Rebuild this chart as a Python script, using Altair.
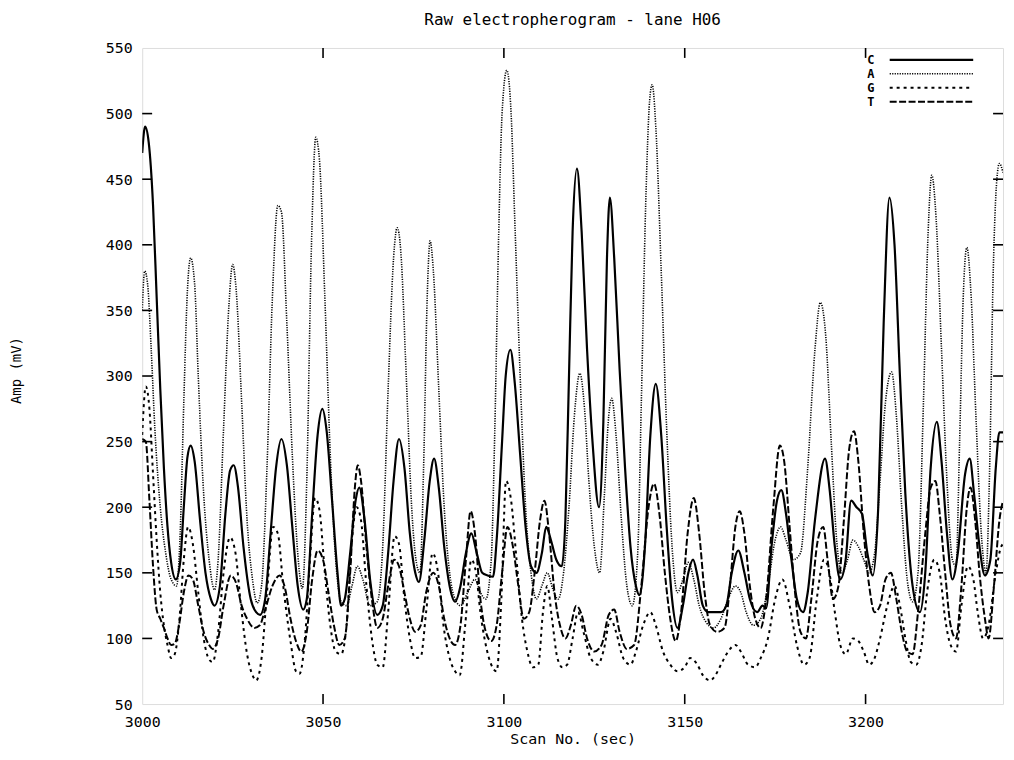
import altair as alt
import pandas as pd

FONT = "DejaVu Sans Mono"

# ---- data: (scan, amplitude mV) ----
C_points = [
    (3000, 470), (3000.8, 490), (3001.8, 478), (3003, 430), (3004, 360), (3005, 290), (3006, 230),
    (3007, 185), (3008, 158), (3009.3, 145), (3010.5, 158), (3011.5, 200), (3012.5, 238), (3013.4, 247),
    (3014.5, 235), (3016, 190), (3017.5, 150), (3019, 130), (3020, 125), (3021.5, 140), (3023, 195),
    (3024.3, 228), (3025.3, 232), (3026.5, 215), (3028, 170), (3030, 130), (3031.5, 120), (3032.6, 118),
    (3034, 130), (3035.5, 180), (3037, 230), (3038.5, 252), (3040, 232), (3041.5, 185), (3043, 140),
    (3044.5, 122), (3045.5, 130), (3047, 195), (3048.5, 255), (3049.8, 275), (3051, 258), (3052.5, 205),
    (3054, 150), (3055, 125), (3056, 130), (3057.5, 165), (3059, 205), (3060, 215), (3061.5, 190),
    (3063, 145), (3065, 118), (3066.5, 125), (3068, 165), (3069.5, 220), (3071, 252), (3072.5, 230),
    (3074, 180), (3075.5, 150), (3076.5, 143), (3078, 175), (3079.5, 220), (3080.7, 237), (3082, 215),
    (3083.5, 170), (3085, 140), (3086.5, 128), (3088, 140), (3089.5, 165), (3091, 180), (3092.5, 165),
    (3094, 150), (3095.5, 148), (3097, 147), (3098, 175), (3099.5, 250), (3100.5, 300), (3101.8, 320),
    (3103, 295), (3104.5, 240), (3106, 185), (3107.5, 155), (3109, 150), (3110.5, 165), (3111.7, 185),
    (3113, 175), (3114.5, 160), (3116, 155), (3117, 190), (3118, 300), (3119, 410), (3120.2, 458),
    (3121.5, 410), (3123, 320), (3124.5, 250), (3126.3, 200), (3127.5, 265), (3128.5, 390), (3129.3, 436),
    (3130.5, 390), (3132, 305), (3133.5, 230), (3135, 170), (3136.5, 140), (3137.5, 133), (3139, 170),
    (3140.5, 255), (3142, 294), (3143.5, 255), (3145, 185), (3146.5, 130), (3148, 108), (3149.5, 125),
    (3151, 150), (3152.3, 160), (3153.5, 148), (3155, 125), (3156.5, 120), (3158, 120), (3160, 120),
    (3161.5, 125), (3163, 150), (3164.8, 167), (3166.5, 150), (3168, 130), (3170, 120), (3171.5, 125),
    (3172.5, 123), (3174, 170), (3175.5, 205), (3176.7, 213), (3178, 195), (3179.5, 160), (3181, 130),
    (3182.7, 120), (3184, 135), (3186, 190), (3188.8, 237), (3190, 215), (3191.5, 170), (3193, 145),
    (3194.5, 160), (3196, 205), (3197.5, 200), (3199, 195), (3200.5, 165), (3202, 148), (3203.5, 200),
    (3205, 340), (3206.6, 436), (3208, 400), (3209.5, 300), (3211, 210), (3213, 140), (3215, 120),
    (3216.5, 150), (3218, 230), (3219.7, 265), (3221, 235), (3222.5, 180), (3224, 145), (3225.5, 165),
    (3227.5, 225), (3228.8, 237), (3230, 210), (3231.5, 170), (3233, 148), (3234.5, 160), (3236, 230),
    (3237, 257), (3238, 257),
]

A_points = [
    (3000, 350), (3000.7, 380), (3001.5, 370), (3002.5, 320), (3003.5, 260), (3005, 200), (3006.5, 165),
    (3008, 145), (3009.5, 140), (3010.5, 180), (3011.5, 280), (3012.5, 365), (3013.4, 390), (3014.5, 370),
    (3015.5, 300), (3017, 210), (3018.5, 160), (3020, 137), (3021, 160), (3022.5, 260), (3024, 355),
    (3025, 385), (3026, 365), (3027.5, 280), (3029, 190), (3030.5, 145), (3031.8, 127), (3033, 140),
    (3034.5, 230), (3036, 360), (3037.5, 430), (3038.5, 425), (3040, 340), (3041.5, 240), (3043, 165),
    (3044.3, 138), (3045.5, 220), (3046.8, 400), (3048, 482), (3049, 465), (3050.5, 360), (3052, 240),
    (3053.5, 160), (3055, 128), (3056.5, 125), (3058, 140), (3059.5, 155), (3061, 145), (3063, 125),
    (3065, 128), (3066.5, 170), (3068, 290), (3069.5, 390), (3070.5, 413), (3071.5, 395), (3073, 300),
    (3074.5, 200), (3076, 155), (3076.8, 150), (3077.8, 230), (3078.8, 360), (3079.6, 403), (3080.5, 380),
    (3082, 290), (3083.5, 200), (3085, 150), (3086.5, 130), (3088, 125), (3090, 135), (3092, 145),
    (3093.5, 135), (3095, 130), (3096.5, 160), (3097.5, 260), (3098.5, 400), (3099.5, 500), (3100.8, 533),
    (3102, 500), (3103, 420), (3104.5, 300), (3106, 200), (3107.5, 150), (3109, 130), (3110.5, 140),
    (3112, 150), (3113.5, 138), (3115, 130), (3116.5, 150), (3118, 200), (3119.5, 270), (3121, 302),
    (3122.3, 275), (3123.5, 220), (3125, 170), (3126.5, 150), (3127.8, 210), (3129, 270), (3129.8, 283),
    (3131, 255), (3132.5, 190), (3134, 140), (3135.5, 125), (3137, 165), (3138, 280), (3139.2, 430),
    (3140.3, 510), (3141, 522), (3142, 490), (3143.5, 380), (3145, 260), (3146.5, 170), (3148, 135),
    (3149.5, 145), (3151, 158), (3152.5, 145), (3154, 125), (3156, 112), (3158, 108), (3160, 115),
    (3162, 130), (3164, 140), (3165.5, 135), (3167, 120), (3169, 110), (3171, 115), (3173, 140),
    (3175, 175), (3176.5, 185), (3178, 175), (3180, 160), (3182, 165), (3184, 230), (3186, 320),
    (3187.5, 356), (3189, 330), (3190.5, 250), (3192, 175), (3193.5, 150), (3195, 160), (3196.5, 175),
    (3198, 170), (3199.5, 160), (3201, 150), (3202.5, 165), (3204, 220), (3205.5, 280), (3207.2, 303),
    (3208.5, 270), (3210, 200), (3211.5, 145), (3213, 128), (3214.5, 150), (3216, 280), (3217.3, 410),
    (3218.3, 453), (3219.5, 420), (3221, 320), (3222.5, 220), (3224, 160), (3225, 155), (3226, 250),
    (3227, 360), (3228, 398), (3229.2, 360), (3230.5, 270), (3232, 180), (3233.3, 150), (3234.3, 230),
    (3235.3, 380), (3236.3, 450), (3237, 462), (3238, 455),
]

G_points = [
    (3000, 255), (3001, 292), (3002, 275), (3003, 225), (3004, 175), (3005, 135), (3006, 110), (3007, 95),
    (3008, 85), (3009, 88), (3010.3, 115), (3011.5, 160), (3012.7, 185), (3014, 172), (3015.5, 135),
    (3017, 100), (3018.5, 84), (3019.5, 82), (3021, 105), (3022.5, 150), (3024.3, 177), (3025.8, 165),
    (3027.3, 125), (3029, 88), (3030.5, 72), (3031.5, 68), (3033, 85), (3034.5, 135), (3036.2, 185),
    (3037.5, 180), (3039, 140), (3041, 98), (3042.5, 75), (3043.5, 73), (3045, 100), (3046.5, 165),
    (3047.8, 207), (3049, 198), (3050.5, 150), (3052, 110), (3053.5, 90), (3055, 88), (3056.5, 110),
    (3058, 175), (3059.3, 200), (3060.5, 190), (3062, 140), (3063.5, 100), (3065, 80), (3066.5, 78),
    (3068, 120), (3069.8, 178), (3071, 172), (3072.5, 130), (3074, 100), (3075.5, 85), (3077, 86),
    (3078.5, 120), (3080.3, 165), (3081.8, 150), (3083.3, 110), (3085, 85), (3086.5, 75), (3087.8, 72),
    (3089.3, 110), (3091, 160), (3092.3, 150), (3093.5, 120), (3095, 95), (3096.5, 80), (3098, 75),
    (3099.3, 130), (3100.6, 220), (3102, 205), (3103.5, 160), (3105, 115), (3106.5, 90), (3108, 78),
    (3109.5, 80), (3110.8, 120), (3112, 140), (3113.3, 115), (3114.8, 85), (3116.2, 78), (3117.5, 80),
    (3119, 100), (3120.5, 120), (3122, 105), (3124, 85), (3126, 80), (3127.5, 90), (3129.5, 115),
    (3131, 105), (3133, 85), (3135, 80), (3136.5, 90), (3138.5, 110), (3140.5, 120), (3142, 110),
    (3144, 90), (3146, 80), (3148, 75), (3150, 78), (3151.5, 85), (3153.5, 80), (3155, 72), (3157, 68),
    (3158.5, 72), (3160, 80), (3162, 90), (3164, 95), (3165.5, 90), (3167.5, 80), (3169.5, 78),
    (3171, 85), (3173, 100), (3175, 130), (3177, 145), (3179, 125), (3181, 95), (3183, 80), (3184.5, 85),
    (3186.5, 130), (3188.5, 160), (3190, 150), (3191.5, 120), (3193, 95), (3194.5, 88), (3196.5, 100),
    (3198, 98), (3199.5, 90), (3201, 80), (3202.5, 85), (3204, 100), (3206, 125), (3208, 140),
    (3209.5, 125), (3211, 100), (3212.5, 82), (3214, 80), (3215.5, 95), (3217, 135), (3219, 160),
    (3220.5, 150), (3222, 115), (3223.5, 95), (3225, 90), (3226.5, 125), (3228.3, 155), (3229.8, 145),
    (3231, 120), (3232.5, 100), (3234, 110), (3236, 150), (3237.5, 170), (3238, 172),
]

T_points = [
    (3000, 252), (3001, 250), (3002, 205), (3003, 155), (3004, 122), (3005, 115), (3006, 108), (3007, 100),
    (3008, 95), (3009, 96), (3010.3, 112), (3011.5, 135), (3012.8, 148), (3014, 145), (3015.5, 125),
    (3017, 105), (3018.5, 95), (3019.5, 92), (3021, 100), (3022.5, 125), (3024.5, 148), (3026, 142),
    (3027.5, 125), (3029, 115), (3031, 108), (3032.5, 110), (3034, 122), (3036, 140), (3038, 148),
    (3039.5, 138), (3041, 115), (3042.5, 98), (3044, 90), (3045.5, 105), (3047, 145), (3048.5, 167),
    (3050, 160), (3051.5, 135), (3053, 110), (3054.5, 95), (3056, 100), (3057.5, 150), (3058.8, 215),
    (3059.6, 232), (3060.5, 220), (3062, 170), (3063.5, 130), (3065, 108), (3066.5, 115), (3068, 140),
    (3069.7, 160), (3071, 155), (3072.5, 135), (3074, 115), (3075.5, 105), (3077, 110), (3078.5, 135),
    (3080.5, 150), (3082, 140), (3083.5, 115), (3085, 100), (3086.5, 95), (3088, 110), (3089.5, 160),
    (3090.8, 197), (3092, 180), (3093.5, 130), (3095, 105), (3096.5, 98), (3098, 110), (3099.5, 150),
    (3101, 185), (3102.5, 170), (3104, 140), (3105.5, 115), (3107, 120), (3108.5, 150), (3110, 190),
    (3111.2, 205), (3112.5, 180), (3114, 135), (3115.5, 110), (3117, 100), (3118.5, 110), (3120, 125),
    (3121.5, 118), (3123, 100), (3125, 90), (3127, 95), (3129, 118), (3130.5, 122), (3132, 105),
    (3134, 92), (3136, 95), (3138, 140), (3140, 200), (3141.5, 218), (3143, 195), (3144.5, 150),
    (3146, 115), (3147.5, 98), (3149, 120), (3150.8, 180), (3152.5, 207), (3154, 180), (3155.5, 135),
    (3157, 110), (3159, 105), (3161, 108), (3162.5, 140), (3164, 185), (3165.2, 197), (3166.5, 180),
    (3168, 140), (3169.5, 115), (3171, 108), (3172.5, 130), (3174.5, 200), (3176.3, 247), (3177.5, 235),
    (3179, 185), (3180.5, 135), (3182, 105), (3183.5, 100), (3185, 130), (3186.8, 175), (3188.3, 185),
    (3189.5, 160), (3191, 130), (3192.5, 140), (3194, 190), (3195.5, 245), (3196.8, 258), (3198, 235),
    (3199.5, 180), (3201, 140), (3202.5, 120), (3204, 125), (3205.5, 145), (3207, 150), (3208.5, 130),
    (3210, 105), (3211.5, 90), (3213, 88), (3214.5, 120), (3216.5, 180), (3218, 215), (3219.3, 220),
    (3220.5, 195), (3222, 150), (3223.5, 110), (3225, 100), (3226.5, 140), (3228, 200), (3229, 215),
    (3230.3, 190), (3231.5, 150), (3233, 115), (3234, 100), (3235.5, 140), (3237, 190), (3238, 205),
]

series_names = ["C", "A", "G", "T"]
x_tick_values = [3000, 3050, 3100, 3150, 3200]
y_tick_values = [50, 100, 150, 200, 250, 300, 350, 400, 450, 500, 550]
inner_x_ticks = [3050, 3100, 3150, 3200]
inner_y_ticks = [100, 150, 200, 250, 300, 350, 400, 450, 500]

# ---- styling ----
W, H = 866, 660
XS = alt.Scale(domain=[3000, 3238], nice=False, zero=False)
YS = alt.Scale(domain=[50, 550], nice=False, zero=False)

AX = alt.Axis(values=x_tick_values, format="d", title="Scan No. (sec)", grid=False, domain=False,
              ticks=False, labelFont=FONT, labelFontSize=15, labelColor="black", labelPadding=11,
              labelFlush=False, titleFont=FONT, titleFontSize=15, titleFontWeight="normal",
              titleColor="black", titleY=35, titleBaseline="middle")
AY = alt.Axis(values=y_tick_values, format="d", title="Amp (mV)", grid=False, domain=False,
              ticks=False, labelFont=FONT, labelFontSize=15, labelColor="black", labelPadding=10,
              titleFont=FONT, titleFontSize=14, titleFontWeight="normal", titleColor="black",
              titleX=-126, titleY=324, titleAlign="center", titleBaseline="middle", titleAngle=270)

styles = {
    "C": dict(strokeWidth=2.2),
    "A": dict(strokeWidth=1.6, strokeDash=[1.2, 1.3]),
    "G": dict(strokeWidth=2.0, strokeDash=[3, 4]),
    "T": dict(strokeWidth=2.0, strokeDash=[7, 2.5]),
}
points = {"C": C_points, "A": A_points, "G": G_points, "T": T_points}

layers = []
for name in ["T", "G", "A", "C"]:
    df = pd.DataFrame(points[name], columns=["scan", "amp"])
    layers.append(
        alt.Chart(df).mark_line(color="black", interpolate="monotone", clip=True, **styles[name]).encode(
            x=alt.X("scan:Q", scale=XS, axis=AX),
            y=alt.Y("amp:Q", scale=YS, axis=AY),
        )
    )

# inward ticks on all four sides
xt = pd.DataFrame({"scan": inner_x_ticks})
yt = pd.DataFrame({"amp": inner_y_ticks})
layers.append(alt.Chart(xt).mark_rule(color="black", strokeWidth=1.6).encode(
    x=alt.X("scan:Q", scale=XS, axis=AX), y=alt.value(H), y2=alt.value(H - 10)))
layers.append(alt.Chart(xt).mark_rule(color="black", strokeWidth=1.6).encode(
    x=alt.X("scan:Q", scale=XS, axis=AX), y=alt.value(0), y2=alt.value(10)))
layers.append(alt.Chart(yt).mark_rule(color="black", strokeWidth=1.6).encode(
    y=alt.Y("amp:Q", scale=YS, axis=AY), x=alt.value(0), x2=alt.value(10)))
layers.append(alt.Chart(yt).mark_rule(color="black", strokeWidth=1.6).encode(
    y=alt.Y("amp:Q", scale=YS, axis=AY), x=alt.value(W - 10), x2=alt.value(W)))

# legend in the top-right corner
for i, name in enumerate(series_names):
    row = 12 + 14 * i
    ldf = pd.DataFrame({"series": [name]})
    layers.append(alt.Chart(ldf).mark_text(font=FONT, fontSize=12, fontWeight="bold", color="black",
                                           align="center", baseline="middle").encode(
        x=alt.value(733), y=alt.value(row), text="series:N"))
    layers.append(alt.Chart(ldf).mark_rule(color="black", **styles[name]).encode(
        x=alt.value(752), x2=alt.value(836), y=alt.value(row)))

chart = alt.layer(*layers).properties(
    width=W, height=H,
    title=alt.TitleParams("Raw electropherogram - lane H06", font=FONT, fontSize=16,
                          fontWeight="normal", color="black", anchor="middle", frame="group", offset=13),
    padding={"left": 135, "top": 38, "right": 3, "bottom": 42},
    autosize=alt.AutoSizeParams(type="none"),
).configure_view(stroke="black", strokeWidth=2).configure(background="white")

chart.save("out.html", embed_options={"renderer": "svg", "actions": False})
